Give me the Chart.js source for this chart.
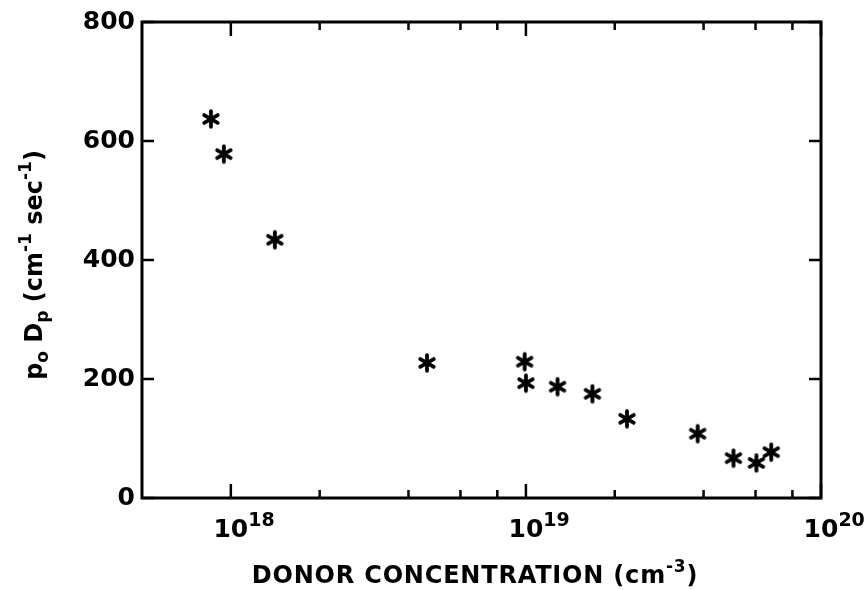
<!DOCTYPE html>
<html>
<head>
<meta charset="utf-8">
<script src="https://cdn.jsdelivr.net/npm/chart.js@4"></script>
<style>
html, body { margin: 0; padding: 0; background: #fff; }
</style>
</head>
<body>
<canvas id="chart" width="866" height="590"></canvas>
<script>
"use strict";

// donor concentration (cm^-3) and p0*Dp values
var donorConc = [8.56e17, 9.47e17, 1.41e18, 4.62e18, 9.9e18, 1.0e19, 1.28e19, 1.68e19, 2.2e19, 3.82e19, 5.05e19, 6.04e19, 6.78e19];
var poDp = [637, 578, 434, 227, 229, 193, 187, 175, 133, 108, 67, 59, 77];

var xTickValues = [1e18, 2e18, 4e18, 6e18, 8e18, 1e19, 2e19, 4e19, 6e19, 8e19, 1e20];
var xLabelValues = [1e18, 1e19, 1e20];
var xLabelExp = ['18', '19', '20'];
var yTickValues = [0, 200, 400, 600, 800];

var FONT = '"DejaVu Sans"';

// six armed asterisk used as the marker
function makeStar() {
    var cv = document.createElement('canvas');
    cv.width = 22; cv.height = 22;
    var c = cv.getContext('2d');
    c.strokeStyle = '#000';
    c.lineWidth = 3.8;
    c.lineCap = 'round';
    for (var k = 0; k < 3; k++) {
        var a = Math.PI / 2 + k * Math.PI / 3;
        var r = 7.8;
        c.beginPath();
        c.moveTo(11 - r * Math.cos(a), 11 - r * Math.sin(a));
        c.lineTo(11 + r * Math.cos(a), 11 + r * Math.sin(a));
        c.stroke();
    }
    return cv;
}

function richText(c, parts, x, y, align, spacing) {
    c.letterSpacing = (spacing || 0) + 'px';
    var w = 0;
    parts.forEach(function (p) {
        c.font = 'bold ' + p.size + 'px ' + FONT;
        p.w = c.measureText(p.t).width;
        w += p.w;
    });
    var cx = align === 'center' ? x - w / 2 : x;
    parts.forEach(function (p) {
        c.font = 'bold ' + p.size + 'px ' + FONT;
        c.fillText(p.t, cx, y + (p.dy || 0));
        cx += p.w;
    });
    c.letterSpacing = '0px';
}

var framePlugin = {
    id: 'frame',
    beforeDatasetsDraw: function (chart) {
        var c = chart.ctx, a = chart.chartArea;
        var xs = chart.scales.x, ys = chart.scales.y;
        c.save();
        c.strokeStyle = '#000';
        c.lineWidth = 3;
        c.strokeRect(a.left, a.top, a.right - a.left, a.bottom - a.top);
        c.lineWidth = 2.5;
        function line(x1, y1, x2, y2) {
            c.beginPath(); c.moveTo(x1, y1); c.lineTo(x2, y2); c.stroke();
        }
        xTickValues.forEach(function (v) {
            var px = xs.getPixelForValue(v);
            var len = xLabelValues.indexOf(v) >= 0 ? 14 : 8;
            line(px, a.bottom, px, a.bottom - len);
            line(px, a.top, px, a.top + len);
        });
        yTickValues.forEach(function (v) {
            var py = ys.getPixelForValue(v);
            line(a.left, py, a.left + 12, py);
            line(a.right, py, a.right - 12, py);
        });
        c.restore();
    },
    afterDraw: function (chart) {
        var c = chart.ctx, a = chart.chartArea;
        var xs = chart.scales.x;
        c.save();
        c.fillStyle = '#000';
        c.textBaseline = 'alphabetic';
        // x tick labels 10^n, "10" centred on the tick
        xLabelValues.forEach(function (v, i) {
            var px = xs.getPixelForValue(v);
            c.font = 'bold 25px ' + FONT;
            var w = c.measureText('10').width;
            richText(c, [{ t: '10', size: 25 }, { t: xLabelExp[i], size: 19, dy: -11 }], px - w / 2, 537, 'left');
        });
        // x axis title
        richText(c, [
            { t: 'DONOR CONCENTRATION (cm', size: 24 },
            { t: '-3', size: 17, dy: -11 },
            { t: ')', size: 24 }
        ], 475, 583, 'center', 0.8);
        // y axis title
        c.translate(42, (a.top + a.bottom) / 2 + 5);
        c.rotate(-Math.PI / 2);
        richText(c, [
            { t: 'p', size: 24 },
            { t: 'o', size: 17, dy: 6 },
            { t: ' D', size: 24 },
            { t: 'p', size: 17, dy: 6 },
            { t: ' (cm', size: 24 },
            { t: '-1', size: 17, dy: -11 },
            { t: ' sec', size: 24 },
            { t: '-1', size: 17, dy: -11 },
            { t: ')', size: 24 }
        ], 0, 0, 'center');
        c.restore();
    }
};

var points = donorConc.map(function (x, i) { return { x: x, y: poDp[i] }; });

new Chart(document.getElementById('chart').getContext('2d'), {
    type: 'scatter',
    data: {
        datasets: [{
            data: points,
            pointStyle: makeStar(),
            pointRadius: 9,
            pointHoverRadius: 9
        }]
    },
    options: {
        responsive: false,
        animation: false,
        events: [],
        layout: { padding: { top: 22, right: 45, left: 0, bottom: 0 } },
        plugins: { legend: { display: false }, tooltip: { enabled: false } },
        scales: {
            x: {
                type: 'logarithmic',
                min: 5e17,
                max: 1e20,
                afterBuildTicks: function (scale) {
                    scale.ticks = xTickValues.map(function (v) { return { value: v }; });
                },
                afterFit: function (scale) { scale.height = 92; },
                grid: { display: false, drawTicks: false },
                border: { display: false },
                ticks: { display: false }
            },
            y: {
                min: 0,
                max: 800,
                afterBuildTicks: function (scale) {
                    scale.ticks = yTickValues.map(function (v) { return { value: v }; });
                },
                afterFit: function (scale) { scale.width = 142; },
                grid: { display: false, drawTicks: false },
                border: { display: false },
                ticks: {
                    padding: 7,
                    color: '#000',
                    font: { family: 'DejaVu Sans', size: 25, weight: 'bold' }
                }
            }
        }
    },
    plugins: [framePlugin]
});
</script>
</body>
</html>
